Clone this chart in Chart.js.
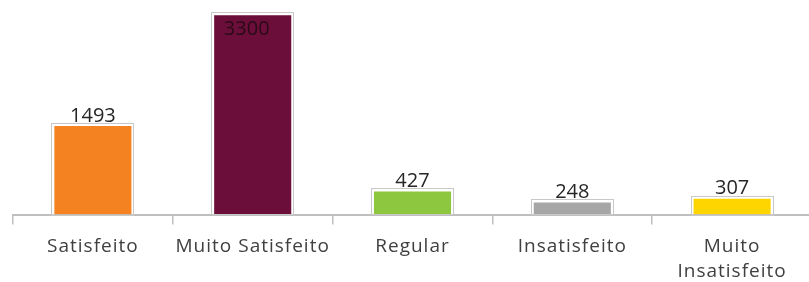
<!DOCTYPE html>
<html>
<head>
<meta charset="utf-8">
<script src="https://cdn.jsdelivr.net/npm/chart.js@4.4.0/dist/chart.umd.min.js"></script>
<style>
  html, body { margin: 0; padding: 0; background: #fff; overflow: hidden; }
  #wrap { position: relative; width: 812px; height: 294px; }
</style>
</head>
<body>
<div id="wrap"><canvas id="chart"></canvas></div>
<script>
const categories = ["Satisfeito", "Muito Satisfeito", "Regular", "Insatisfeito", ["Muito", "Insatisfeito"]];
const values = [1493, 3300, 427, 248, 307];
const barColors = ["#F58220", "#6B0F3A", "#8DC63F", "#A6A6A6", "#FFD500"];

// wider letter spacing to get closer to the office font
const spacing = {
    id: 'spacing',
    beforeUpdate(chart) { chart.ctx.letterSpacing = '1px'; },
    beforeDraw(chart) { chart.ctx.letterSpacing = '1px'; }
};

// outer gray frame + value labels, like the original office chart
const barDecor = {
    id: 'barDecor',
    afterDatasetsDraw(chart) {
        const ctx = chart.ctx;
        const meta = chart.getDatasetMeta(0);
        ctx.save();
        ctx.letterSpacing = '0px';
        meta.data.forEach((bar, i) => {
            const half = bar.width / 2;
            ctx.strokeStyle = '#c8c8c8';
            ctx.lineWidth = 1;
            ctx.strokeRect(Math.round(bar.x - half) + 0.5, Math.round(bar.y) + 0.5,
                Math.round(bar.width) - 1, Math.round(bar.base - bar.y));

            ctx.font = '20px "Open Sans", sans-serif';
            ctx.fillStyle = '#262626';
            ctx.textAlign = 'center';
            const label = String(values[i]);
            if (bar.y < 30) {
                ctx.textBaseline = 'top';
                ctx.fillStyle = '#2a0a18';
                ctx.fillText(label, bar.x - 6, bar.y + 7);
            } else {
                ctx.textBaseline = 'bottom';
                ctx.fillText(label, bar.x, bar.y + 3);
            }
        });
        ctx.restore();
    }
};

new Chart(document.getElementById('chart'), {
    type: 'bar',
    data: {
        labels: categories,
        datasets: [{
            data: values,
            backgroundColor: barColors,
            borderColor: '#ffffff',
            borderWidth: 3,
            barPercentage: 0.52,
            categoryPercentage: 1
        }]
    },
    options: {
        responsive: true,
        maintainAspectRatio: false,
        animation: false,
        layout: { padding: { left: 13, top: 0, right: 0, bottom: 0 } },
        plugins: { legend: { display: false }, tooltip: { enabled: false } },
        scales: {
            x: {
                offset: true,
                grid: {
                    offset: true,
                    drawOnChartArea: false,
                    tickLength: 10,
                    color: '#bfbfbf',
                    lineWidth: 1.5
                },
                border: { color: '#bfbfbf', width: 2 },
                ticks: {
                    color: '#404040',
                    font: { family: '"Open Sans", sans-serif', size: 19, lineHeight: 1.3 },
                    maxRotation: 0,
                    padding: 10
                }
            },
            y: {
                display: false,
                min: 0,
                max: 3500
            }
        }
    },
    plugins: [spacing, barDecor]
});
</script>
</body>
</html>
